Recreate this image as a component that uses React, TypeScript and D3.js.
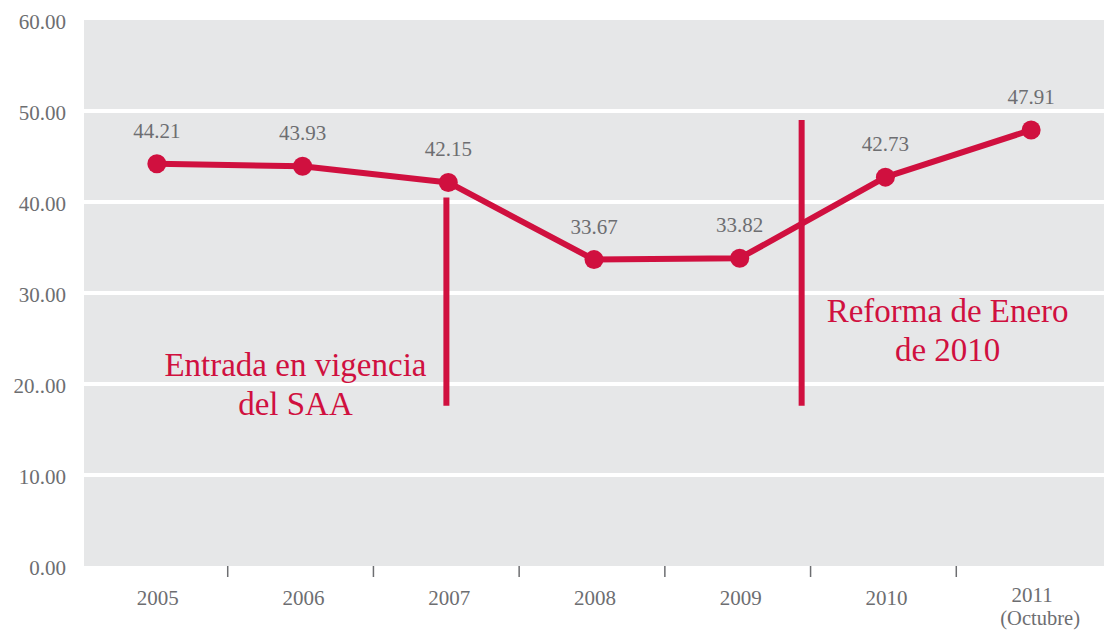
import React from "react";
import * as d3 from "d3";

const years = ["2005", "2006", "2007", "2008", "2009", "2010", "2011"];
const values = [44.21, 43.93, 42.15, 33.67, 33.82, 42.73, 47.91];
const yTicks = [0, 10, 20, 30, 40, 50, 60];
const yTickLabels = ["0.00", "10.00", "20..00", "30.00", "40.00", "50.00", "60.00"];
const annotations = [
  { pos: 2.487, top: 40.5, bottom: 17.6, lines: ["Entrada en vigencia", "del SAA"], cx: 1.451, y0: 20.9 },
  { pos: 4.925, top: 49.0, bottom: 17.6, lines: ["Reforma de Enero", "de 2010"], cx: 5.927, y0: 26.8 },
];

const W = 1104, H = 631;
const L = 84, R = 1104, T = 20, B = 566;
const RED = "#d0103f";
const GRAY = "#6d6e71";
const FONT = "Liberation Serif";

export default function App() {
  const x = d3.scaleBand<string>().domain(years).range([L, R]);
  const y = d3.scaleLinear().domain([0, 60]).range([B, T]);
  const cx = (i: number) => (x(years[i]) ?? 0) + x.bandwidth() / 2;
  const xc = (p: number) => L + x.bandwidth() * p; // position in band units
  const line = d3.line<number>().x((_, i) => cx(i)).y((d) => y(d));

  return (
    <svg width={W} height={H} style={{ position: "absolute", left: 0, top: 0 }}>
      <rect x={L} y={T} width={R - L} height={B - T} fill="#e6e7e8" />
      {yTicks.slice(1, -1).map((t) => (
        <line key={t} x1={L} x2={R} y1={y(t)} y2={y(t)} stroke="#fff" strokeWidth={4} />
      ))}
      {yTicks.map((t, i) => (
        <text key={t} x={66} y={y(t) + 9} textAnchor="end" fontFamily={FONT} fontSize={21} fill={GRAY}>
          {yTickLabels[i]}
        </text>
      ))}
      {years.slice(1).map((yr) => (
        <line key={yr} x1={(x(yr) ?? 0) - 2} x2={(x(yr) ?? 0) - 2} y1={B} y2={B + 11} stroke={GRAY} strokeWidth={1.5} />
      ))}
      {years.map((yr, i) => (
        <text key={yr} x={cx(i) + 1} y={i === 6 ? 602 : 605} textAnchor="middle" fontFamily={FONT} fontSize={21} fill={GRAY}>
          {yr}
        </text>
      ))}
      <text x={cx(6) + 9} y={625} textAnchor="middle" fontFamily={FONT} fontSize={20.5} fill={GRAY}>
        (Octubre)
      </text>
      {annotations.map((a, k) => (
        <g key={k}>
          <line x1={xc(a.pos)} x2={xc(a.pos)} y1={y(a.top)} y2={y(a.bottom)} stroke={RED} strokeWidth={6} />
          {a.lines.map((s, j) => (
            <text key={j} x={xc(a.cx)} y={y(a.y0) + j * 39} textAnchor="middle" fontFamily={FONT} fontSize={33} fill={RED}>
              {s}
            </text>
          ))}
        </g>
      ))}
      <path d={line(values) ?? ""} fill="none" stroke={RED} strokeWidth={6} strokeLinejoin="round" />
      {values.map((v, i) => (
        <g key={i}>
          <circle cx={cx(i)} cy={y(v)} r={9.5} fill={RED} />
          <text x={cx(i)} y={y(v) - 26} textAnchor="middle" fontFamily={FONT} fontSize={21} fill={GRAY}>
            {v.toFixed(2)}
          </text>
        </g>
      ))}
    </svg>
  );
}
